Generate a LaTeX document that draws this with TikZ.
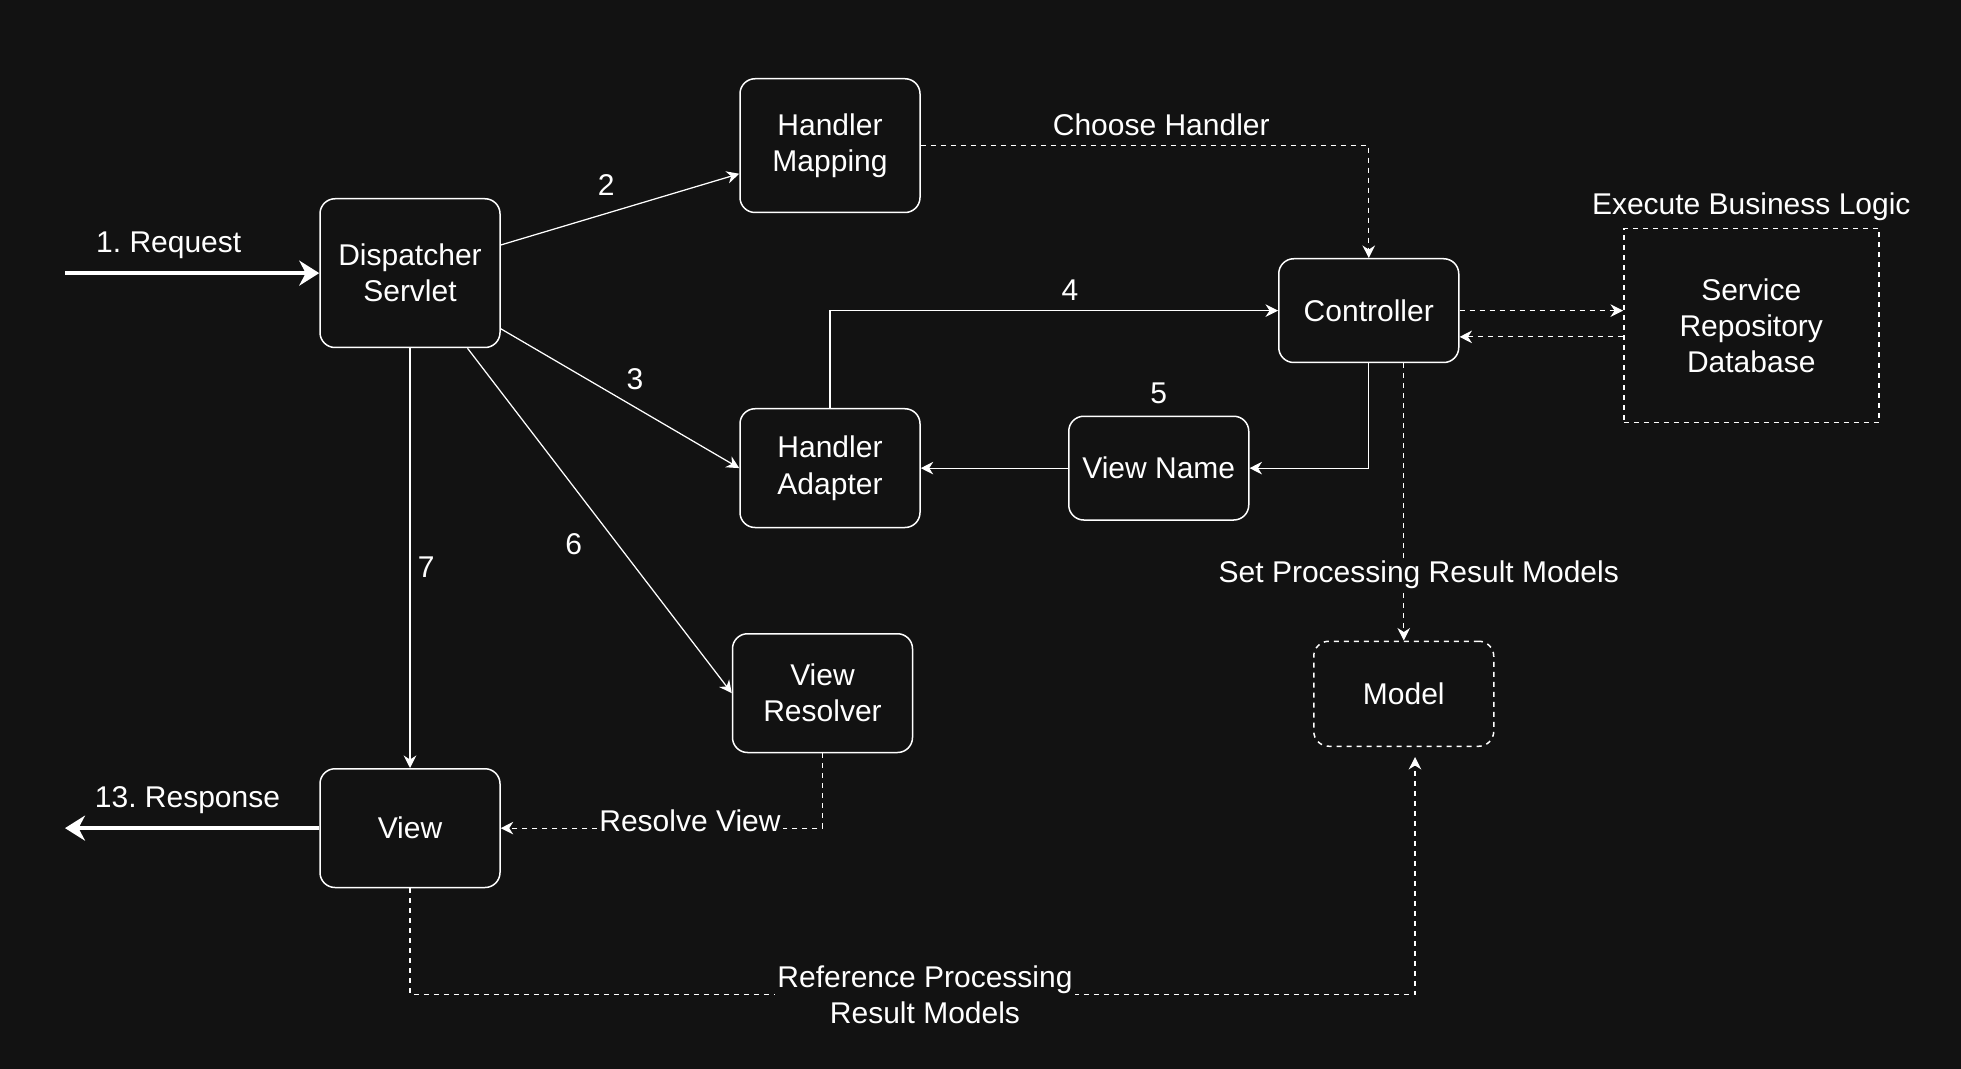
\documentclass[tikz,border=0pt]{standalone}
\usepackage{fontspec}
\setmainfont{Liberation Sans}
\usetikzlibrary{arrows.meta}
\definecolor{bgdark}{RGB}{18,18,18}
\frenchspacing

\begin{document}
\begin{tikzpicture}[x=0.5pt,y=-0.5pt,
  every node/.style={text=white,font=\fontsize{12}{14.5}\selectfont,inner sep=0pt},
  box/.style={draw=white,fill=bgdark,rounded corners=6pt,minimum width=72pt,align=center,line width=0.6pt},
  link/.style={draw=white,line width=0.5pt,-{Stealth[length=5pt,width=5pt]}},
  dots/.style={link,dash pattern=on 2pt off 2pt},
  bigarrow/.style={draw=white,line width=1.5pt,-{Stealth[length=8pt,width=10pt]}},
  tag/.style={fill=bgdark,inner sep=1pt,align=center}]
\fill[bgdark] (0,0) rectangle (1568.8,855.2);
\useasboundingbox (0,0) rectangle (1568.8,855.2);

% boxes
\node[box,minimum height=59.5pt] (ds) at (328,218.5) {Dispatcher\\Servlet};
\node[box,minimum height=53.5pt] (hm) at (664,116.5) {Handler\\Mapping};
\node[box,minimum height=41.5pt] (ctl) at (1095,248.5) {Controller};
\node[box,minimum height=47.5pt] (ha) at (664,374.5) {Handler\\Adapter};
\node[box,minimum height=41.5pt] (vn) at (927,374.5) {View Name};
\node[box,minimum height=47.5pt] (vr) at (658,554.5) {View\\Resolver};
\node[box,minimum height=42pt,dash pattern=on 2pt off 2pt] (md) at (1123,555) {Model};
\node[box,minimum height=47.5pt] (vw) at (328,662.5) {View};
\node[draw=white,line width=0.6pt,dash pattern=on 2pt off 2pt,minimum width=102pt,minimum height=77.5pt,align=center] (sv) at (1401,260.5) {Service\\Repository\\Database};
\node (exec) at (1401,165) {Execute Business Logic};

% request / response
\coordinate (req) at (52,218.5);
\coordinate (resp) at (52,662.5);
\draw[bigarrow] (req) -- (ds.west);
\node (reqlbl) at (135,196) {1. Request};
\draw[bigarrow] (vw.west) -- (resp);
\node (resplbl) at (150,640) {13. Response};

% numbered steps
\draw[link] ([yshift=11.25pt]ds.east) -- ([yshift=-11.25pt]hm.west);
\node (s2) at (485,148) {2};
\draw[link] ([yshift=-22.25pt]ds.east) -- (ha.west);
\node (s3) at (508,303) {3};
\draw[link] (ha.north) |- (ctl.west);
\node (s4) at (856,232) {4};
\draw[link] (ctl.south) |- (vn.east);
\node (s5) at (927,315) {5};
\draw[link] (vn.west) -- (ha.east);
\draw[link] ([xshift=23pt]ds.south) -- (vr.west);
\node (s6) at (459,435) {6};
\draw[link] (ds.south) -- (vw.north);
\node (s7) at (341,454) {7};

% dashed flows
\draw[dots] (hm.east) -| (ctl.north);
\node (choose) at (929,100) {Choose Handler};
\draw[dots] (ctl.east) -- (sv.west |- ctl.east);
\draw[dots] ([yshift=-10.5pt]sv.west |- ctl.east) -- ([yshift=-10.5pt]ctl.east);
\draw[dots] (md.north |- ctl.south) -- (md.north);
\node[tag] (setres) at (1135,460) {Set Processing Result Models};
\draw[dots] (vr.south) |- (vw.east);
\node[tag] (resolve) at (552,657) {Resolve View};
\draw[dots,shorten >=4pt] (vw.south) -- ++(0,85) -| ([xshift=4.5pt]md.south);
\node[tag] (refres) at (740,796) {Reference Processing\\Result Models};
\end{tikzpicture}
\end{document}
